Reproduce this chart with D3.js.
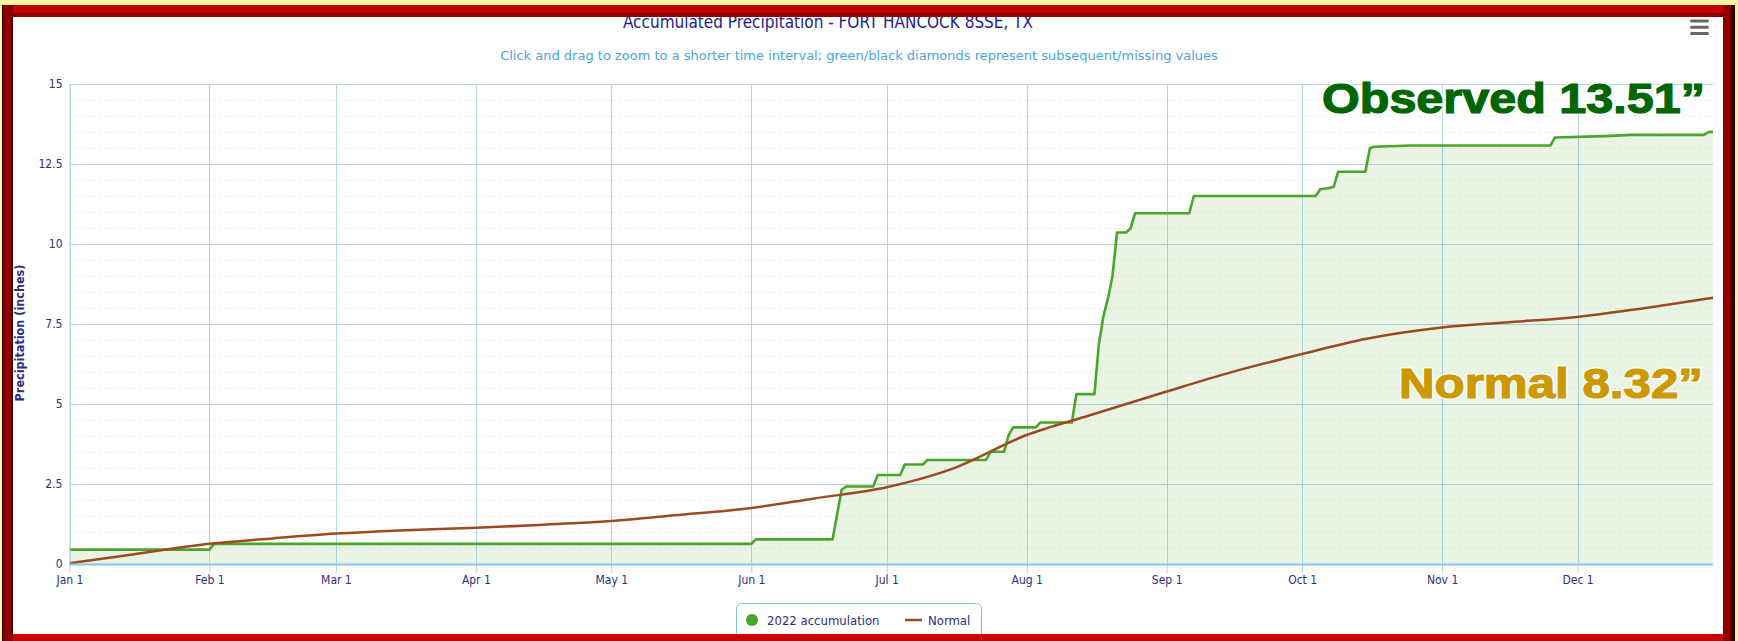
<html>
	<head>
		<script type="text/javascript" src="https://cdn.jsdelivr.net/npm/d3@7/dist/d3.min.js"></script>
		<style>
			body { margin: 0; background: #fbf6a2; }
			svg { display: block; }
			text { font-family: "DejaVu Sans Condensed", "DejaVu Sans", sans-serif; }
		</style>
	</head>
	<body>
		<script type="text/javascript">

			// data
			var monthStarts = ["2022-01-01","2022-02-01","2022-03-01","2022-04-01","2022-05-01","2022-06-01",
				"2022-07-01","2022-08-01","2022-09-01","2022-10-01","2022-11-01","2022-12-01"];
			var monthLabels = ["Jan 1","Feb 1","Mar 1","Apr 1","May 1","Jun 1","Jul 1","Aug 1","Sep 1","Oct 1","Nov 1","Dec 1"];
			var yTicks = [0, 2.5, 5, 7.5, 10, 12.5, 15];

			var obsDates = ["2022-01-01","2022-02-01","2022-02-02","2022-06-01","2022-06-02","2022-06-19","2022-06-21",
				"2022-06-22","2022-06-28","2022-06-29","2022-07-04","2022-07-05","2022-07-09","2022-07-10","2022-07-23",
				"2022-07-24","2022-07-27","2022-07-28","2022-07-29","2022-08-03","2022-08-04","2022-08-11","2022-08-12",
				"2022-08-16","2022-08-17","2022-08-18","2022-08-19","2022-08-20","2022-08-21","2022-08-23","2022-08-24",
				"2022-08-25","2022-09-06","2022-09-07","2022-10-04","2022-10-05","2022-10-07","2022-10-08","2022-10-09",
				"2022-10-15","2022-10-16","2022-10-17","2022-10-25","2022-11-25","2022-11-26","2022-12-07","2022-12-13",
				"2022-12-29","2022-12-30","2022-12-31"];
			var obsValues = [0.45,0.45,0.63,0.63,0.77,0.77,2.31,2.42,2.42,2.78,2.78,3.11,3.11,3.25,3.25,3.51,3.51,4.03,4.27,
				4.27,4.42,4.42,5.31,5.31,6.90,7.75,8.30,9.00,10.36,10.36,10.49,10.96,10.96,11.50,11.50,11.71,11.75,11.79,
				12.26,12.26,12.99,13.04,13.08,13.08,13.33,13.37,13.41,13.41,13.50,13.51];

			var normDates = ["2022-01-01","2022-01-15","2022-02-01","2022-02-15","2022-03-01","2022-03-15","2022-04-01",
				"2022-04-15","2022-05-01","2022-05-15","2022-06-01","2022-06-15","2022-07-01","2022-07-15","2022-08-01",
				"2022-08-15","2022-09-01","2022-09-15","2022-10-01","2022-10-15","2022-11-01","2022-11-15","2022-12-01",
				"2022-12-15","2022-12-31"];
			var normValues = [0.02,0.30,0.63,0.80,0.95,1.05,1.13,1.22,1.34,1.52,1.75,2.05,2.40,2.95,4.03,4.65,5.39,5.98,
				6.56,7.03,7.39,7.55,7.72,7.98,8.32];

			var titleText = "Accumulated Precipitation - FORT HANCOCK 8SSE, TX",
				subtitleText = "Click and drag to zoom to a shorter time interval; green/black diamonds represent subsequent/missing values";

			//layout
			var width = 1738,
				height = 641,
				plotLeft = 69.5,
				plotRight = 1713,
				plotTop = 84,
				plotBottom = 564;

			var parse = d3.timeParse("%Y-%m-%d");

			var obs = obsDates.map(function(d,i){ return {date: parse(d), value: obsValues[i]}; });
			var norm = normDates.map(function(d,i){ return {date: parse(d), value: normValues[i]}; });
			var months = monthStarts.map(parse);

			var x = d3.scaleTime()
				.domain([parse("2022-01-01"), parse("2022-12-31")])
				.range([plotLeft, plotRight]);

			var y = d3.scaleLinear()
				.domain([0, 15])
				.range([plotBottom, plotTop]);

			var svg = d3.select('body').append('svg')
				.attr('width', width)
				.attr('height', height);

			// white chart panel
			svg.append('rect')
				.attr('x', 0).attr('y', 0)
				.attr('width', width).attr('height', height)
				.attr('fill', '#ffffff');

			// minor dotted grid
			svg.append('g')
				.selectAll('line')
				.data(d3.range(0.5, 15, 0.5).filter(function(v){ return yTicks.indexOf(v) < 0; }))
				.enter().append('line')
				.attr('x1', plotLeft).attr('x2', plotRight)
				.attr('y1', function(d){ return Math.round(y(d)) + 0.5; })
				.attr('y2', function(d){ return Math.round(y(d)) + 0.5; })
				.attr('stroke', '#d8d8d8')
				.attr('stroke-dasharray', '1,4');

			// major grid
			svg.append('g')
				.selectAll('line')
				.data(yTicks)
				.enter().append('line')
				.attr('x1', plotLeft).attr('x2', plotRight)
				.attr('y1', function(d){ return Math.round(y(d)) + 0.5; })
				.attr('y2', function(d){ return Math.round(y(d)) + 0.5; })
				.attr('stroke', '#b4d3ec');

			svg.append('g')
				.selectAll('line')
				.data(months)
				.enter().append('line')
				.attr('x1', function(d){ return Math.round(x(d)) + 0.5; })
				.attr('x2', function(d){ return Math.round(x(d)) + 0.5; })
				.attr('y1', plotTop).attr('y2', plotBottom)
				.attr('stroke', '#b4d3ec');

			// observed area + line
			var area = d3.area()
				.x(function(d){ return x(d.date); })
				.y0(y(0))
				.y1(function(d){ return y(d.value); });

			var line = d3.line()
				.x(function(d){ return x(d.date); })
				.y(function(d){ return y(d.value); });

			svg.append('path')
				.datum(obs)
				.attr('d', area)
				.attr('fill', '#4aa52a')
				.attr('fill-opacity', 0.12);

			svg.append('path')
				.datum(obs)
				.attr('d', line)
				.attr('fill', 'none')
				.attr('stroke', '#4aa52a')
				.attr('stroke-width', 2.6)
				.attr('stroke-linejoin', 'round');

			svg.append('path')
				.datum(norm)
				.attr('d', line.curve(d3.curveMonotoneX))
				.attr('fill', 'none')
				.attr('stroke', '#9c4a22')
				.attr('stroke-width', 2.5);

			// x axis
			var xAxis = svg.append('g')
				.attr('transform', 'translate(0,' + plotBottom + ')')
				.call(d3.axisBottom(x)
					.tickValues(months)
					.tickSize(9)
					.tickPadding(2)
					.tickFormat(function(d,i){ return monthLabels[i]; }));
			xAxis.select('.domain').remove();
			xAxis.selectAll('.tick line').attr('stroke', '#b4d3ec');
			xAxis.selectAll('.tick text')
				.attr('fill', '#2e2e80')
				.style('font-size', '12px')
				.style('font-family', '"DejaVu Sans Condensed", sans-serif');
			svg.append('line')
				.attr('x1', plotLeft).attr('x2', plotRight)
				.attr('y1', plotBottom + 0.5).attr('y2', plotBottom + 0.5)
				.attr('stroke', '#8cc3ea')
				.attr('stroke-width', 2);

			// y axis
			var yAxis = svg.append('g')
				.attr('transform', 'translate(' + plotLeft + ',0)')
				.call(d3.axisLeft(y)
					.tickValues(yTicks)
					.tickSize(0)
					.tickPadding(7)
					.tickFormat(function(d){ return String(d); }));
			yAxis.select('.domain').attr('stroke', '#b4d3ec');
			yAxis.selectAll('.tick text')
				.attr('fill', '#2e2e80')
				.style('font-size', '12px')
				.style('font-family', '"DejaVu Sans Condensed", sans-serif');

			svg.append('text')
				.attr('transform', 'translate(24,333) rotate(-90)')
				.attr('text-anchor', 'middle')
				.attr('fill', '#2e2e80')
				.style('font-size', '12.5px')
				.style('font-weight', 'bold')
				.text('Precipitation (inches)');

			// titles
			svg.append('text')
				.attr('x', 828).attr('y', 28)
				.attr('text-anchor', 'middle')
				.attr('fill', '#23238c')
				.style('font-size', '17px')
				.text(titleText);

			svg.append('text')
				.attr('x', 859).attr('y', 60)
				.attr('text-anchor', 'middle')
				.attr('fill', '#4ba3e3')
				.style('font-family', '"DejaVu Sans", sans-serif')
				.style('font-size', '13px')
				.text(subtitleText);

			// menu icon
			svg.append('g')
				.selectAll('rect')
				.data([0, 1, 2])
				.enter().append('rect')
				.attr('x', 1690).attr('y', function(d){ return 19.5 + d * 6.3; })
				.attr('width', 19).attr('height', 3)
				.attr('rx', 1.5)
				.attr('fill', '#666666');

			// big annotations
			function bigLabel(txt, xx, yy, len, color){
				var g = svg.append('g');
				g.append('text')
					.attr('x', xx).attr('y', yy)
					.attr('textLength', len).attr('lengthAdjust', 'spacingAndGlyphs')
					.attr('fill', 'none')
					.attr('stroke', '#ffffff').attr('stroke-width', 4).attr('stroke-opacity', 0.7)
					.style('font-family', '"Liberation Sans", Arial, sans-serif')
					.style('font-weight', 'bold')
					.style('font-size', '42px')
					.text(txt);
				g.append('text')
					.attr('x', xx).attr('y', yy)
					.attr('textLength', len).attr('lengthAdjust', 'spacingAndGlyphs')
					.attr('fill', color)
					.attr('stroke', color).attr('stroke-width', 1.2)
					.style('font-family', '"Liberation Sans", Arial, sans-serif')
					.style('font-weight', 'bold')
					.style('font-size', '42px')
					.text(txt);
			}
			bigLabel('Observed 13.51\u201d', 1322, 113, 383, '#006600');
			bigLabel('Normal 8.32\u201d', 1399, 398, 304, '#cc9900');

			// legend
			var legend = svg.append('g');
			legend.append('rect')
				.attr('x', 736.5).attr('y', 603.5)
				.attr('width', 245).attr('height', 44)
				.attr('rx', 5)
				.attr('fill', '#ffffff')
				.attr('stroke', '#7cbdea');
			legend.append('circle')
				.attr('cx', 752).attr('cy', 620).attr('r', 6)
				.attr('fill', '#4aa52a');
			legend.append('text')
				.attr('x', 767).attr('y', 624.5)
				.attr('fill', '#2e2e80')
				.style('font-size', '13px')
				.text('2022 accumulation');
			legend.append('line')
				.attr('x1', 905).attr('x2', 922)
				.attr('y1', 620).attr('y2', 620)
				.attr('stroke', '#9c4a22').attr('stroke-width', 2.5);
			legend.append('text')
				.attr('x', 928).attr('y', 624.5)
				.attr('fill', '#2e2e80')
				.style('font-size', '13px')
				.text('Normal');

			// frame on top
			var frame = svg.append('g');
			frame.append('rect').attr('x', 0).attr('y', 0).attr('width', width).attr('height', 5).attr('fill', '#fbf6a2');
			frame.append('rect').attr('x', 0).attr('y', 0).attr('width', 2).attr('height', height).attr('fill', '#fbf6a2');
			frame.append('rect').attr('x', 1735).attr('y', 0).attr('width', 3).attr('height', height).attr('fill', '#f3eab0');
			frame.append('rect').attr('x', 2).attr('y', 5).attr('width', 1733).attr('height', 8).attr('fill', '#c40000');
			frame.append('rect').attr('x', 2).attr('y', 13).attr('width', 1733).attr('height', 4).attr('fill', '#8e0000');
			frame.append('rect').attr('x', 2).attr('y', 634).attr('width', 1733).attr('height', 7).attr('fill', '#cc0000');
			frame.append('rect').attr('x', 2).attr('y', 5).attr('width', 11).attr('height', 636).attr('fill', '#8e0000');
			frame.append('rect').attr('x', 2).attr('y', 5).attr('width', 1.5).attr('height', 636).attr('fill', '#2a0000');
			frame.append('rect').attr('x', 11.5).attr('y', 17).attr('width', 1.5).attr('height', 617).attr('fill', '#3a0000');
			frame.append('rect').attr('x', 1723).attr('y', 5).attr('width', 12).attr('height', 636).attr('fill', '#8e0000');
			frame.append('rect').attr('x', 1731).attr('y', 5).attr('width', 4).attr('height', 636).attr('fill', '#2a0000');

		</script>
	</body>
</html>
